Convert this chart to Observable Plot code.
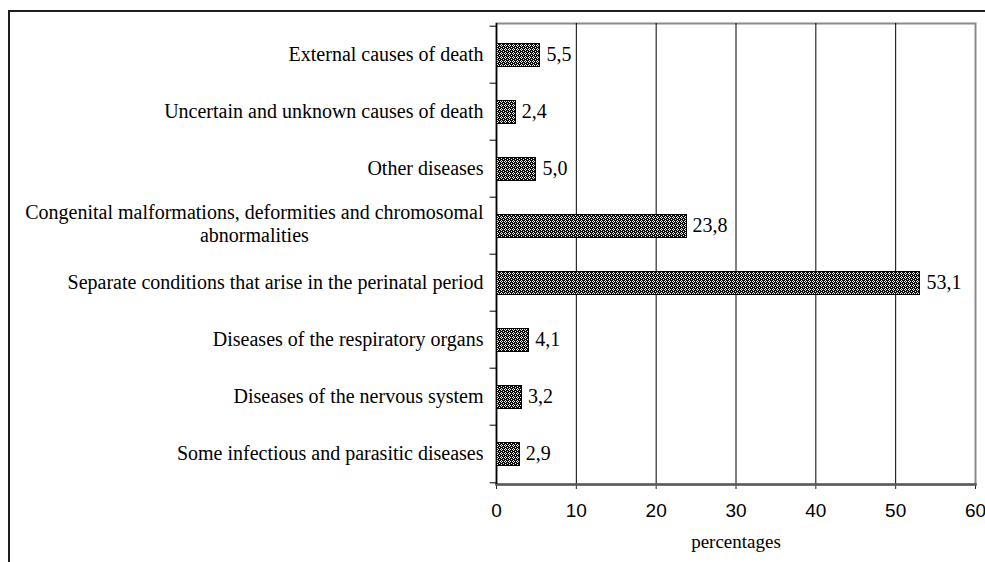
<!DOCTYPE html>
<html>
<head>
<meta charset="utf-8">
<script src="https://cdn.jsdelivr.net/npm/d3@7"></script>
<script src="https://cdn.jsdelivr.net/npm/@observablehq/plot@0.6"></script>
<style>
  html, body { margin: 0; padding: 0; background: #fff; }
  #wrap { position: relative; width: 985px; height: 562px; overflow: hidden; }
  #wrap svg { position: absolute; left: 0; top: 0; }
  #edge {
    position: absolute; left: 8px; top: 10px; right: -10px; bottom: -10px;
    border-left: 2px solid #1e1e1e; border-top: 2px solid #1e1e1e;
    pointer-events: none;
  }
</style>
</head>
<body>
<div id="wrap"><div id="edge"></div></div>
<script>
// Causes of death, top to bottom, with their share in percent
const causes = [
  "External causes of death",
  "Uncertain and unknown causes of death",
  "Other diseases",
  "Congenital malformations, deformities and chromosomal abnormalities",
  "Separate conditions that arise in the perinatal period",
  "Diseases of the respiratory organs",
  "Diseases of the nervous system",
  "Some infectious and parasitic diseases"
];
const causeLabels = [
  "External causes of death",
  "Uncertain and unknown causes of death",
  "Other diseases",
  "Congenital malformations, deformities and chromosomal\nabnormalities",
  "Separate conditions that arise in the perinatal period",
  "Diseases of the respiratory organs",
  "Diseases of the nervous system",
  "Some infectious and parasitic diseases"
];
const shares = [5.5, 2.4, 5.0, 23.8, 53.1, 4.1, 3.2, 2.9];
const xTicks = [0, 10, 20, 30, 40, 50, 60];
const axisTitle = "percentages";

const rows = causes.map((cause, i) => ({cause, label: causeLabels[i], share: shares[i]}));

const W = 985, H = 562;
const mTop = 23, mBottom = 78, mLeft = 496, mRight = 10;
const step = (H - mTop - mBottom) / causes.length;
const serif = "'Liberation Serif', 'Times New Roman', serif";
const sans = "'Liberation Sans', Arial, sans-serif";
const labelSize = 20, labelGap = 13, lineGap = 23;

// Comma as the decimal separator
const fmt = v => d3.format(".1f")(v).replace(".", ",");

// Width of a text line, used to centre wrapped continuation lines under the first line
const ctx = document.createElement("canvas").getContext("2d");
ctx.font = `${labelSize}px ${serif}`;
const measure = t => ctx.measureText(t).width;

// Dotted crosshatch fill of the bars
function hatchDefs() {
  const ns = "http://www.w3.org/2000/svg";
  const defs = document.createElementNS(ns, "defs");
  const pat = document.createElementNS(ns, "pattern");
  pat.setAttribute("id", "hatch");
  pat.setAttribute("patternUnits", "userSpaceOnUse");
  pat.setAttribute("width", 4);
  pat.setAttribute("height", 4);
  const bg = document.createElementNS(ns, "rect");
  bg.setAttribute("width", 4); bg.setAttribute("height", 4); bg.setAttribute("fill", "#0d0d0d");
  pat.appendChild(bg);
  for (const [px, py] of [[1, 0], [0, 1], [2, 1], [1, 2], [3, 3]]) {
    const r = document.createElementNS(ns, "rect");
    r.setAttribute("x", px); r.setAttribute("y", py);
    r.setAttribute("width", 1); r.setAttribute("height", 1);
    r.setAttribute("fill", "#f2f2f2");
    pat.appendChild(r);
  }
  defs.appendChild(pat);
  return defs;
}

const single = rows.filter(d => !d.label.includes("\n"));
const wrapped = rows.filter(d => d.label.includes("\n"));

const wrappedMarks = wrapped.flatMap(d => {
  const lines = d.label.split("\n");
  const w0 = measure(lines[0]);
  const off = (lines.length - 1) / 2;
  return lines.map((t, j) => Plot.text([d], {
    y: "cause", text: () => t, frameAnchor: "left",
    textAnchor: j === 0 ? "end" : "middle",
    dx: j === 0 ? -labelGap : -(labelGap + w0 / 2),
    dy: (j - off) * lineGap - 2,
    fontFamily: serif, fontSize: labelSize, fill: "#000"
  }));
});

const chart = Plot.plot({
  width: W, height: H,
  marginTop: mTop, marginBottom: mBottom, marginLeft: mLeft, marginRight: mRight,
  style: {background: "transparent", color: "#000", overflow: "visible"},
  x: {domain: [0, 60], ticks: xTicks},
  y: {domain: causes, paddingInner: 0.6, paddingOuter: 0.3, axis: null},
  marks: [
    hatchDefs,
    Plot.frame({stroke: "#8a8a8a", strokeWidth: 2}),
    Plot.gridX(xTicks.slice(1, -1), {stroke: "#000", strokeOpacity: 1, strokeWidth: 1}),
    Plot.axisX(xTicks, {
      tickSize: 5, tickPadding: 14, stroke: "#222",
      fontFamily: sans, fontSize: 19, label: null,
      tickFormat: d => String(d)
    }),
    Plot.frame({anchor: "bottom", stroke: "#5a5a5a", strokeWidth: 2.5}),
    Plot.ruleX([0], {stroke: "#000", strokeWidth: 1.5}),
    // category separators on the left of the value axis
    Plot.ruleY(causes, {y: d => d, x1: -0.8, x2: 0, dy: -step / 2, stroke: "#000"}),
    Plot.ruleY(causes.slice(-1), {y: d => d, x1: -0.8, x2: 0, dy: step / 2, stroke: "#000"}),
    Plot.barX(rows, {
      x: "share", y: "cause", fill: "url(#hatch)", stroke: "#000", strokeWidth: 1,
      shapeRendering: "crispEdges"
    }),
    Plot.text(rows, {
      x: "share", y: "cause", text: d => fmt(d.share),
      textAnchor: "start", dx: 6, fontFamily: serif, fontSize: 20, fill: "#000"
    }),
    Plot.text(single, {
      y: "cause", text: "label", frameAnchor: "left", textAnchor: "end", dx: -labelGap,
      fontFamily: serif, fontSize: labelSize, fill: "#000"
    }),
    ...wrappedMarks,
    Plot.text([axisTitle], {
      frameAnchor: "bottom", dy: 63, text: d => d,
      fontFamily: serif, fontSize: 19, fill: "#000"
    })
  ]
});

document.getElementById("wrap").insertBefore(chart, document.getElementById("edge"));
</script>
</body>
</html>
